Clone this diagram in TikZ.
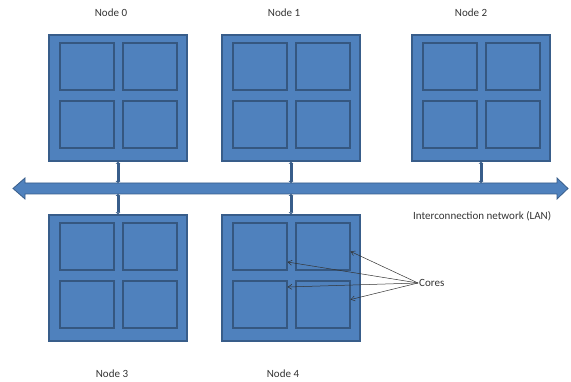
\documentclass[tikz,border=0pt]{standalone}
\usepackage{fontspec}
\setmainfont{Carlito}
\usetikzlibrary{arrows.meta}

\definecolor{boxfill}{HTML}{4F81BD}
\definecolor{boxline}{HTML}{385D8A}
\definecolor{coreline}{HTML}{355780}

\tikzset{
    nodebox/.style={draw=boxline, line width=1.4pt, fill=boxfill,
        minimum width=138pt, minimum height=126pt, inner sep=0pt},
    corebox/.style={draw=coreline, line width=2pt, fill=boxfill,
        minimum width=54pt, minimum height=47pt, inner sep=0pt},
    link/.style={draw=boxline, line width=3pt,
        {Latex[length=2pt,width=5.5pt]}-{Latex[length=2pt,width=5.5pt]}},
    pointer/.style={draw=black!80, line width=0.5pt, -{Straight Barb[length=4pt,width=5pt]}},
    lbl/.style={font=\fontsize{11}{13}\selectfont, text=black!80, inner sep=1pt}
}

\begin{document}
\begin{tikzpicture}[x=1pt,y=-1pt]
    \useasboundingbox (0,0) rectangle (571,382);

    % Rede de interligação
    \coordinate (bustop) at (0,183);
    \coordinate (busbot) at (0,194);
    \filldraw[fill=boxfill, draw=boxline, line width=0.8pt]
        (13,188.5) -- (25,178) -- (25,183) -- (557,183) -- (557,178)
        -- (568,188.5) -- (557,199) -- (557,194) -- (25,194) -- (25,199) -- cycle;
    \node[lbl, anchor=west] (lan) at (412,216) {Interconnection network (LAN)};

    % Nós com quatro núcleos cada
    \foreach \n/\x/\y/\lx/\ly in {0/118/98/111/13, 1/291/98/284/13, 2/481/98/471/13,
                                  3/118/278/112/374, 4/291/278/283/374} {
        \node[nodebox] (n\n) at (\x,\y) {};
        \node[corebox] (n\n a) at (\x-31.5,\y-31.5) {};
        \node[corebox] (n\n b) at (\x+31.5,\y-31.5) {};
        \node[corebox] (n\n c) at (\x-31.5,\y+26.5) {};
        \node[corebox] (n\n d) at (\x+31.5,\y+26.5) {};
        \node[lbl] (label\n) at (\lx,\ly) {Node \n};
    }

    % Ligações à rede
    \foreach \n in {0,1,2}
        \draw[link] (n\n.south) -- (n\n.south |- bustop);
    \foreach \n in {3,4}
        \draw[link] (n\n.north) -- (n\n.north |- busbot);

    % Núcleos
    \node[lbl, anchor=west] (cores) at (418,283) {Cores};
    \draw[pointer] (cores.west) -- (n4a.-29);
    \draw[pointer] (cores.west) -- (n4c.32);
    \draw[pointer] (cores.west) -- (n4b.-10);
    \draw[pointer] (cores.west) -- (n4d.10);
\end{tikzpicture}
\end{document}
